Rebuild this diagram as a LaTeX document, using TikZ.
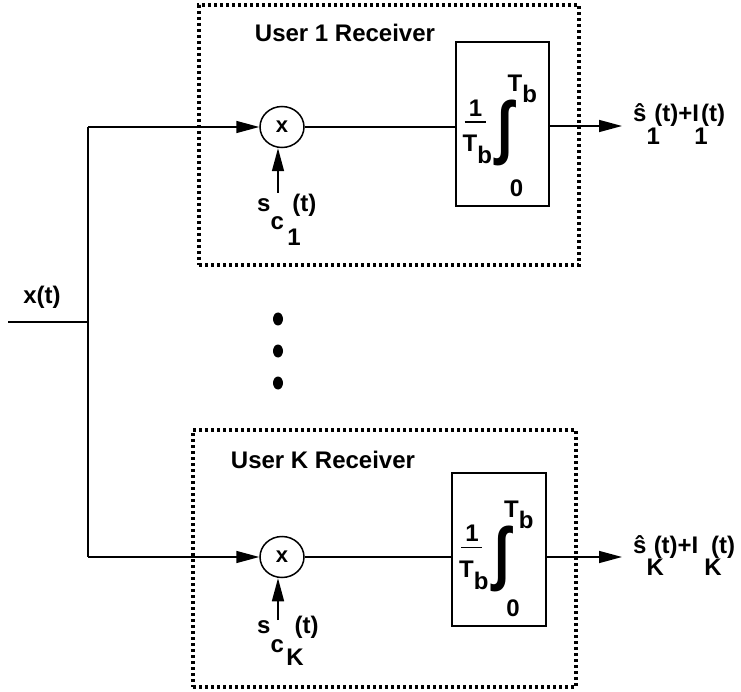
\documentclass[tikz,border=0pt]{standalone}
\usepackage{fontspec}
\setmainfont{Liberation Sans}
\usepackage{graphicx}
\usepackage{tikz}
\usetikzlibrary{arrows.meta,positioning,shapes.geometric}
\tikzset{
  sig/.style={line width=1.5pt},
  arr/.style={sig,-{Triangle[length=23pt,width=12pt]}},
  rxbox/.style={draw,line width=3.2pt,dash pattern=on 3pt off 3pt,inner sep=0pt},
  mult/.style={ellipse,draw,line width=1.5pt,minimum width=44pt,minimum height=41pt,inner sep=0pt},
  intbox/.style={draw,line width=1.5pt,minimum width=93pt,inner sep=0pt},
  lbl/.style={font=\bfseries\fontsize{24}{28}\selectfont,inner sep=0pt},
}
% integrator contents, placed inside a named box
\newcommand{\intparts}[1]{%
  \node[lbl] (#1-one) at ([shift={(-27,-16)}]#1.center) {1};
  \draw[sig] ([shift={(-38,-2)}]#1.center) -- ([shift={(-17,-2)}]#1.center);
  \node[lbl,anchor=base west] (#1-lo) at ([shift={(-40,28)}]#1.center) {T\raisebox{-0.5em}{b}};
  \node[lbl] (#1-sign) at ([shift={(3,9)}]#1.center) {\scalebox{2.3}[2.9]{∫}};
  \node[lbl,anchor=base west] (#1-up) at ([shift={(5,-32)}]#1.center) {T\raisebox{-0.45em}{b}};
  \node[lbl] (#1-zero) at ([shift={(14,-19)}]#1.south) {0};
}
\begin{document}
\begin{tikzpicture}[x=1pt,y=-1pt]
  \useasboundingbox (0,0) rectangle (741,692);
  % receiver frames
  \node[rxbox,minimum width=380pt,minimum height=260pt] (rx1) at (389,135) {};
  \node[rxbox,minimum width=383pt,minimum height=257pt] (rxK) at (384.5,558.5) {};
  \node[lbl] (title1) at (345,33) {User 1 Receiver};
  \node[lbl] (titleK) at (323,460) {User K Receiver};
  % input and split
  \coordinate (xin) at (8,322);
  \coordinate (split) at (88,322);
  \coordinate (b1) at (88,127);
  \coordinate (bK) at (88,557);
  \node[lbl] (xlab) at (42,297) {x(t)};
  \draw[sig] (xin) -- (split);
  \draw[sig] (b1) -- (bK);
  % multipliers
  \node[mult] (m1) at (282,127) {\bfseries\fontsize{22}{24}\selectfont x};
  \node[mult] (mK) at (282,557) {\bfseries\fontsize{22}{24}\selectfont x};
  \draw[arr] (b1) -- (m1.west);
  \draw[arr] (bK) -- (mK.west);
  % spreading codes
  \coordinate (sc1) at (278,193);
  \coordinate (scK) at (278,620);
  \draw[arr] (sc1) -- (sc1 |- m1.south);
  \draw[arr] (scK) -- (scK |- mK.south);
  \node[lbl,anchor=base west] (sc1lab) at (257,212)
        {s\raisebox{-0.75em}{c}\hspace{0.15em}\rlap{\raisebox{-1.38em}{1}}\hspace{0.2em}(t)};
  \node[lbl,anchor=base west] (scKlab) at (257,633)
        {s\raisebox{-0.8em}{c}\hspace{0.1em}\rlap{\raisebox{-1.35em}{K}}\hspace{0.35em}(t)};
  % integrators
  \node[intbox,minimum height=164pt] (int1) at (502.5,124) {};
  \node[intbox,minimum height=153pt,minimum width=94pt] (intK) at (499,549.5) {};
  \intparts{int1}
  \intparts{intK}
  \draw[sig] (m1) -- (m1 -| int1.west);
  \draw[sig] (mK) -- (mK -| intK.west);
  % outputs
  \coordinate (o1) at (622,126);
  \coordinate (oK) at (622,557);
  \draw[arr] (int1.east |- o1) -- (o1);
  \draw[arr] (intK.east |- oK) -- (oK);
  \node[lbl,anchor=base west] (out1) at (633,122)
        {\^{s}\rlap{\raisebox{-0.95em}{1}}\hspace{0.33em}(t)+I\rlap{\raisebox{-0.95em}{\hspace{-0.2em}1}}\hspace{0.08em}(t)};
  \node[lbl,anchor=base west] (outK) at (633,553)
        {\^{s}\rlap{\raisebox{-0.95em}{K}}\hspace{0.3em}(t)+I\hspace{0.25em}\rlap{\raisebox{-0.95em}{K}}\hspace{0.28em}(t)};
  % dots
  \fill (278,319) ellipse (5 and 6.5);
  \fill (278,351) ellipse (5 and 6.5);
  \fill (278,383) ellipse (5 and 6.5);
\end{tikzpicture}
\end{document}
